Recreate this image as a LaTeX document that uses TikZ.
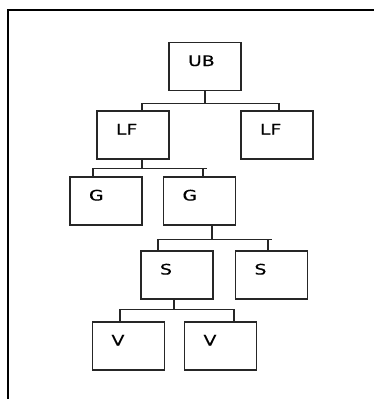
\documentclass[tikz,border=0pt]{standalone}
\usepackage{fontspec}
\newfontfamily\boxfont{DejaVu Sans}[FakeStretch=1.3,FakeBold=0.5]
\begin{document}
\begin{tikzpicture}[x=1pt,y=-1pt,
    box/.style={draw=black!85,line width=1.3pt,minimum width=72pt,text width=34pt,align=left,
        inner xsep=0pt,inner ysep=0pt,text height=23.5pt,text depth=24.5pt,font=\boxfont\fontsize{14.5}{16}\selectfont},
    link/.style={draw=black!85,line width=1.3pt}]
                \useasboundingbox (0,0) rectangle (374,399);
                \draw[line width=2.6pt] (374,10) -- (8,10) -- (8,399);
                \node[box] (UB) at (205,66.5) {UB};
                \node[box] (LF1) at (133,135) {LF};
                \node[box] (LF2) at (277,135) {LF};
                \node[box] (G1) at (106,201) {G};
                \node[box] (G2) at (199.5,201) {G};
                \node[box] (S1) at (177,275) {S};
                \node[box] (S2) at (271.5,275) {S};
                \node[box] (V1) at (128.5,346) {V};
                \node[box] (V2) at (220.5,346) {V};
                \draw[link] (UB.south) -- ++(0,12) coordinate (ub);
                \draw[link] ([xshift=9pt]LF1.north) |- ([xshift=2pt]LF2.north |- ub) -- ([xshift=2pt]LF2.north);
                \draw[link] ([xshift=9pt]LF1.south) -- ++(0,9) coordinate (lf);
                \draw[link] ([xshift=-13pt]G1.north) |- ([xshift=7.5pt]G2.north |- lf);
                \draw[link] ([xshift=3.5pt]G2.north) -- ([xshift=3.5pt]G2.north |- lf);
                \draw[link] ([xshift=12.5pt]G2.south) -- ++(0,14) coordinate (g);
                \draw[link] ([xshift=-19pt]S1.north) |- ([xshift=0.5pt]S2.north |- g);
                \draw[link] ([xshift=-3.5pt]S2.north) -- ([xshift=-3.5pt]S2.north |- g);
                \draw[link] ([xshift=-3pt]S1.south) -- ++(0,10) coordinate (s);
                \draw[link] ([xshift=-8.5pt]V1.north) |- ([xshift=13.5pt]V2.north |- s) -- ([xshift=13.5pt]V2.north);
            \end{tikzpicture}
\end{document}
